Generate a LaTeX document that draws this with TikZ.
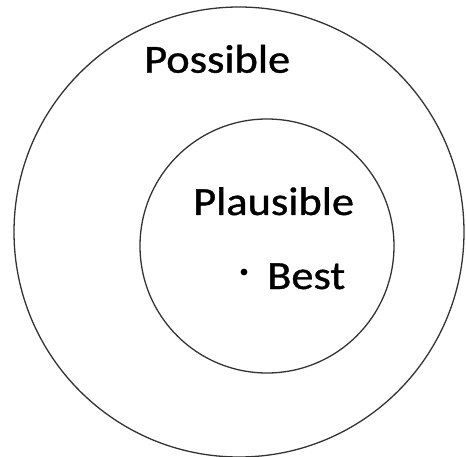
\documentclass[tikz,border=0pt]{standalone}
\usepackage{fontspec}
\setmainfont{Carlito}
\newfontfamily\labelfont[FakeBold=0.9]{Carlito}
\usepackage{tikz}
\usetikzlibrary{positioning}

\begin{document}
\begin{tikzpicture}[x=1pt, y=1pt,
    ring/.style={circle, draw=black!80, line width=1.3pt, inner sep=0pt},
    setlabel/.style={font=\labelfont\fontsize{40}{48}\selectfont, inner sep=0pt,
      transform shape, xscale=1.11}]
  \useasboundingbox (0,0) rectangle (466,-457);
  %% the two sets
  \node[ring, minimum size=450pt] (possible) at (239,-232) {};
  \node[ring, minimum size=254pt] (plausible) at (267,-246) {};

  %% labels
  \node[setlabel, anchor=base west] (possibletext) at (144,-72.7) {Possible};
  \node[setlabel, anchor=base west] (plausibletext) at (193,-215) {Plausible};
  \node[setlabel, anchor=base west] (besttext) at (267,-289) {Best};
  \fill (244,-272) circle (3.4pt) coordinate (bestdot);
\end{tikzpicture}
\end{document}
